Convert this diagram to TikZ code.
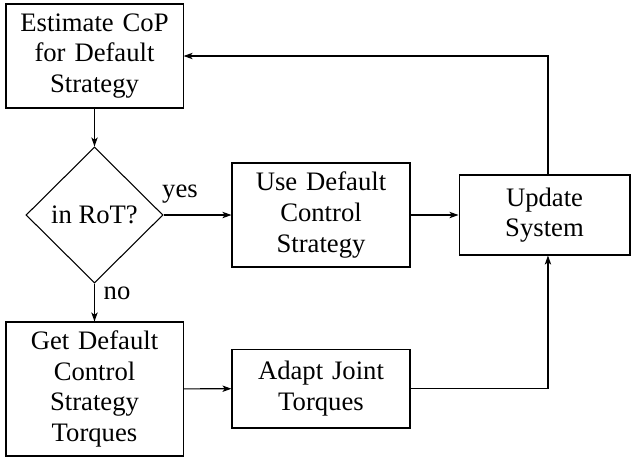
\documentclass[tikz,border=0pt]{standalone}
\usepackage{fontspec}
\setmainfont{Liberation Serif}
\usetikzlibrary{shapes.geometric,arrows.meta}

\begin{document}
\begin{tikzpicture}[x=0.375pt,y=-0.375pt,
  every node/.style={font=\fontsize{10}{11.5}\selectfont},
  block/.style={draw,rectangle,align=center,inner sep=2pt,text width=60pt},
  decision/.style={draw,diamond,align=center,inner sep=0pt,minimum width=51.4pt,minimum height=51pt},
  flow/.style={draw,-{Stealth[length=3.4pt,width=2.4pt,inset=0.9pt]}},
  tag/.style={inner sep=0pt}]
  \useasboundingbox (0,0) rectangle (631,460);

  % process steps
  \node[block,minimum width=66.4pt,minimum height=39pt] (est) at (94.5,56)
    {Estimate CoP for Default Strategy};
  \node[decision] (dec) at (94.5,215) {in RoT?};
  \node[block,minimum width=66.75pt,minimum height=39pt] (use) at (321,215)
    {Use Default Control Strategy};
  \node[block,text width=58pt,minimum width=64.1pt,minimum height=30pt] (upd) at (544.5,215)
    {Update System};
  \node[block,minimum width=66.4pt,minimum height=50.25pt] (get) at (94.5,389)
    {Get Default Control Strategy Torques};
  \node[block,minimum width=66.75pt,minimum height=29.6pt] (adapt) at (321,388.5)
    {Adapt Joint Torques};

  % branch labels
  \node[tag] (yes) at (180,194) {yes};
  \node[tag] (no) at (117,293) {no};

  % connectors
  \draw[flow] (est) -- (dec);
  \draw[flow] (dec) -- (use);
  \draw[flow] (dec) -- (get);
  \draw[flow] (use) -- (upd);
  \draw[flow] (get) -- (adapt);
  \draw[flow] (adapt.east) -| ([xshift=1.3pt]upd.south);
  \draw[flow] ([xshift=1.3pt]upd.north) |- (est.east);
\end{tikzpicture}
\end{document}
